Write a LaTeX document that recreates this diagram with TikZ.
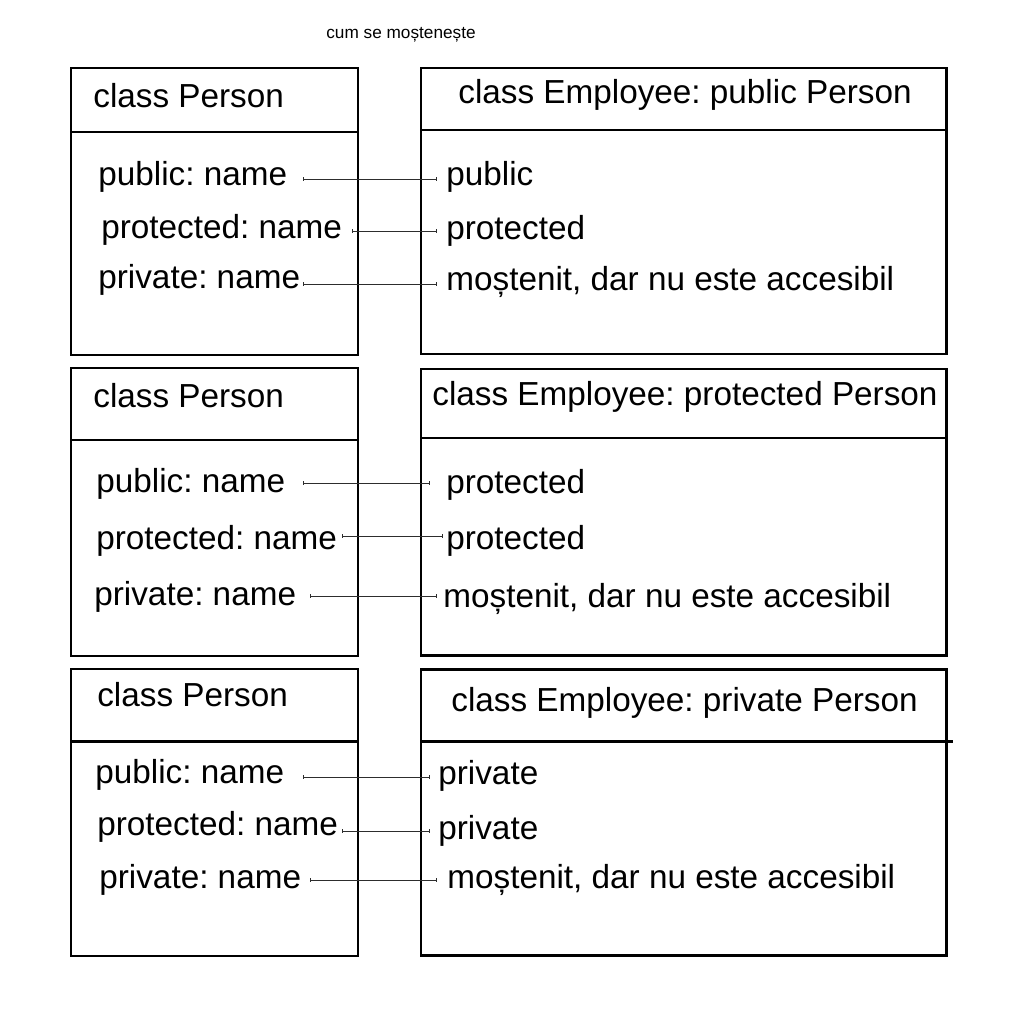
\documentclass[tikz,border=0pt]{standalone}
\usepackage{fontspec}
\setmainfont{Liberation Sans}
\usetikzlibrary{arrows.meta,positioning}
\definecolor{frameBlack}{RGB}{0,0,0}
\definecolor{linkGray}{RGB}{45,45,45}
\frenchspacing

\begin{document}
\begin{tikzpicture}[x=0.02cm, y=-0.02cm,
  txt/.style={anchor=base west, inner sep=0pt, font=\fontsize{18.95}{22}\selectfont},
  basebox/.style={draw=frameBlack, line width=0.8pt},
  derivedbox/.style={draw=frameBlack, line width=1.7pt},
  divider/.style={draw=frameBlack, line width=1.7pt},
  link/.style={draw=linkGray, line width=0.5pt, {Bar[width=2pt]}-{Bar[width=2pt]}}]
\useasboundingbox (0,0) rectangle (1024,1024);

\node[anchor=base west, inner sep=0pt, font=\fontsize{9.8}{12}\selectfont] (title) at (326,39) {cum se moștenește};

% public inheritance
\draw[basebox] (71,68) rectangle (358,355);
\draw[divider] (71,132) -- (358,132);
\draw[derivedbox] (421,68) rectangle (946,354);
\draw[divider] (421,130) -- (946,130);
\node[txt] (baseA) at (93,108) {class Person};
\node[txt] (derA) at (458,104) {class Employee: public Person};
\node[txt] (pubA) at (98,185) {public: name};
\node[txt] (proA) at (101,238) {protected: name};
\node[txt] (priA) at (98,288) {private: name};
\node[txt] (outpubA) at (446,185) {public};
\node[txt] (outproA) at (446,239) {protected};
\node[txt] (outpriA) at (446,290) {moștenit, dar nu este accesibil};
\coordinate (pubAs) at (303,179);  \coordinate (pubAe) at (437,179);
\coordinate (proAs) at (352,231);  \coordinate (proAe) at (437,231);
\coordinate (priAs) at (303,284);  \coordinate (priAe) at (437,284);
\draw[link] (pubAs) -- (pubAe);
\draw[link] (proAs) -- (proAe);
\draw[link] (priAs) -- (priAe);

% protected inheritance
\draw[basebox] (71,368) rectangle (358,656);
\draw[divider] (71,440) -- (358,440);
\draw[derivedbox] (421,369) rectangle (946,655);
\draw[divider] (421,438) -- (946,438);
\node[txt] (baseB) at (93,407) {class Person};
\node[txt] (derB) at (432,405) {class Employee: protected Person};
\node[txt] (pubB) at (96,492) {public: name};
\node[txt] (proB) at (96,549) {protected: name};
\node[txt] (priB) at (94,605) {private: name};
\node[txt] (outpubB) at (446,493) {protected};
\node[txt] (outproB) at (446,549) {protected};
\node[txt] (outpriB) at (443,607) {moștenit, dar nu este accesibil};
\coordinate (pubBs) at (303,483);  \coordinate (pubBe) at (430,483);
\coordinate (proBs) at (342,536);  \coordinate (proBe) at (443,536);
\coordinate (priBs) at (310,596);  \coordinate (priBe) at (437,596);
\draw[link] (pubBs) -- (pubBe);
\draw[link] (proBs) -- (proBe);
\draw[link] (priBs) -- (priBe);

% private inheritance
\draw[basebox] (71,669) rectangle (358,956);
\draw[divider] (71,741) -- (358,741);
\draw[derivedbox] (421,669) rectangle (946,955);
\draw[divider] (421,741) -- (953,741);
\node[txt] (baseC) at (97,706) {class Person};
\node[txt] (derC) at (451,711) {class Employee: private Person};
\node[txt] (pubC) at (95,783) {public: name};
\node[txt] (proC) at (97,835) {protected: name};
\node[txt] (priC) at (99,888) {private: name};
\node[txt] (outpubC) at (438,784) {private};
\node[txt] (outproC) at (438,839) {private};
\node[txt] (outpriC) at (447,888) {moștenit, dar nu este accesibil};
\coordinate (pubCs) at (303,777);  \coordinate (pubCe) at (430,777);
\coordinate (proCs) at (342,831);  \coordinate (proCe) at (430,831);
\coordinate (priCs) at (310,880);  \coordinate (priCe) at (437,880);
\draw[link] (pubCs) -- (pubCe);
\draw[link] (proCs) -- (proCe);
\draw[link] (priCs) -- (priCe);
\end{tikzpicture}
\end{document}
